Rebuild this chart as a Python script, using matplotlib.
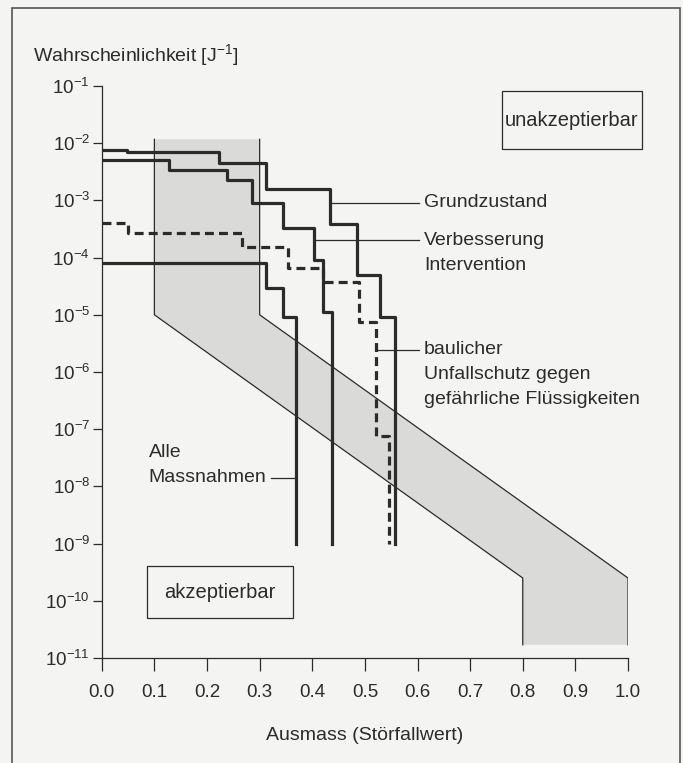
import matplotlib.pyplot as plt
from matplotlib.patches import Polygon, Rectangle

plt.rcParams['font.family'] = ['Liberation Sans', 'DejaVu Sans']
plt.rcParams['mathtext.fontset'] = 'custom'
plt.rcParams['mathtext.rm'] = 'Liberation Sans'
plt.rcParams['mathtext.it'] = 'Liberation Sans:italic'
plt.rcParams['font.size'] = 13.5

# step curves (x where each level starts, level), last point = drop to 1e-9
grund_x = [0.0, 0.048, 0.223, 0.313, 0.434, 0.485, 0.529, 0.557]
grund_y = [7.6e-3, 6.9e-3, 4.5e-3, 1.6e-3, 3.9e-4, 5.0e-5, 9.3e-6, 1e-9]

verb_x = [0.0, 0.127, 0.238, 0.286, 0.345, 0.403, 0.420, 0.437]
verb_y = [5.1e-3, 3.4e-3, 2.3e-3, 9.1e-4, 3.3e-4, 9.1e-5, 1.1e-5, 1e-9]

baul_x = [0.0, 0.050, 0.267, 0.354, 0.420, 0.489, 0.522, 0.546]
baul_y = [4.0e-4, 2.7e-4, 1.55e-4, 6.5e-5, 3.7e-5, 7.4e-6, 7.7e-8, 1e-9]

alle_x = [0.0, 0.313, 0.345, 0.370]
alle_y = [7.9e-5, 3.0e-5, 9.0e-6, 1e-9]

# shaded limit band
band_x = [0.1, 0.3, 0.3, 1.0, 1.0, 0.8, 0.8, 0.1]
band_y = [1.17e-2, 1.17e-2, 1e-5, 2.5e-10, 1.7e-11, 1.7e-11, 2.5e-10, 1e-5]

x_ticks = [0.0, 0.1, 0.2, 0.3, 0.4, 0.5, 0.6, 0.7, 0.8, 0.9, 1.0]
y_exponents = list(range(-1, -12, -1))

ink = "#2b2b2b"
bg = "#f4f4f2"

fig = plt.figure(figsize=(6.83, 7.63), dpi=100, facecolor=bg)
ax = fig.add_axes([0.149, 0.1376, 0.7705, 0.7497])
ax.set_facecolor("none")
ax.set_yscale("log")
ax.set_xlim(0, 1)
ax.set_ylim(1e-11, 1e-1)

# band
ax.add_patch(Polygon(list(zip(band_x, band_y)), closed=True, facecolor="#dadad8",
                     edgecolor="none", zorder=1))
left_edge = [0, 7, 6, 5]
right_edge = [1, 2, 3, 4]
for idx in (left_edge, right_edge):
    ax.plot([band_x[i] for i in idx], [band_y[i] for i in idx], color=ink, lw=0.9, zorder=2)

# curves
ax.step(grund_x, grund_y, where="post", color=ink, lw=2.3, zorder=4)
ax.step(verb_x, verb_y, where="post", color=ink, lw=2.3, zorder=4)
ax.step(baul_x, baul_y, where="post", color=ink, lw=2.3, ls=(0, (2.8, 1.6)), zorder=4)
ax.step(alle_x, alle_y, where="post", color=ink, lw=2.3, zorder=4)

# leader lines and labels
lead = dict(color=ink, lw=0.9, zorder=3)
ax.plot([0.434, 0.603], [10 ** -3.04] * 2, **lead)
ax.plot([0.403, 0.603], [10 ** -3.70] * 2, **lead)
ax.plot([0.522, 0.603], [10 ** -5.61] * 2, **lead)
ax.plot([0.322, 0.370], [10 ** -7.86] * 2, **lead)

tx = 0.612
lab = dict(va="center", color=ink, fontsize=14)
ax.text(tx, 10 ** -3.04, "Grundzustand", **lab)
ax.text(tx, 10 ** -3.70, "Verbesserung", **lab)
ax.text(tx, 10 ** -4.14, "Intervention", **lab)
ax.text(tx, 10 ** -5.60, "baulicher", **lab)
ax.text(tx, 10 ** -6.04, "Unfallschutz gegen", **lab)
ax.text(tx, 10 ** -6.48, "gefährliche Flüssigkeiten", **lab)
ax.text(0.089, 10 ** -7.40, "Alle", **lab)
ax.text(0.089, 10 ** -7.84, "Massnahmen", **lab)

# region boxes
ax.add_patch(Rectangle((0.76, 10 ** -2.1), 0.267, 10 ** -1.08 - 10 ** -2.1,
                       fill=False, ec=ink, lw=0.9, clip_on=False, zorder=3))
ax.text(0.8935, 10 ** -1.6, "unakzeptierbar", ha="center", va="center", color=ink, fontsize=14.5)
ax.add_patch(Rectangle((0.086, 10 ** -10.3), 0.278, 10 ** -9.4 - 10 ** -10.3,
                       fill=False, ec=ink, lw=0.9, clip_on=False, zorder=3))
ax.text(0.225, 10 ** -9.85, "akzeptierbar", ha="center", va="center", color=ink, fontsize=14.5)

# axes styling
for side in ("top", "right"):
    ax.spines[side].set_visible(False)
for side in ("left", "bottom"):
    ax.spines[side].set_color(ink)
    ax.spines[side].set_linewidth(0.9)

ax.set_xticks(x_ticks)
ax.set_xticklabels([f"{v:.1f}" for v in x_ticks])
ax.set_yticks([10.0 ** e for e in y_exponents])
ax.set_yticklabels([f"$10^{{{e}}}$" for e in y_exponents])
ax.minorticks_off()
ax.tick_params(axis="x", length=9, width=0.9, color=ink, labelcolor=ink, pad=10)
ax.tick_params(axis="y", length=6.5, width=0.9, color=ink, labelcolor=ink, pad=2)

fig.text(0.5 * (0.149 + 0.9195), 1 - 735 / 763, "Ausmass (Störfallwert)", ha="center",
         va="center", color=ink, fontsize=14)
fig.text(33 / 683, 1 - 55 / 763, "Wahrscheinlichkeit [J$^{-1}$]", va="center", color=ink,
         fontsize=14)

# outer frame
fig.patches.append(Rectangle((12 / 683, -0.02), (680 - 12) / 683, 1.02 - 8 / 763,
                             transform=fig.transFigure, fill=False, ec="#555555", lw=1.2))

fig.savefig("out.png", dpi=100, facecolor=bg)
